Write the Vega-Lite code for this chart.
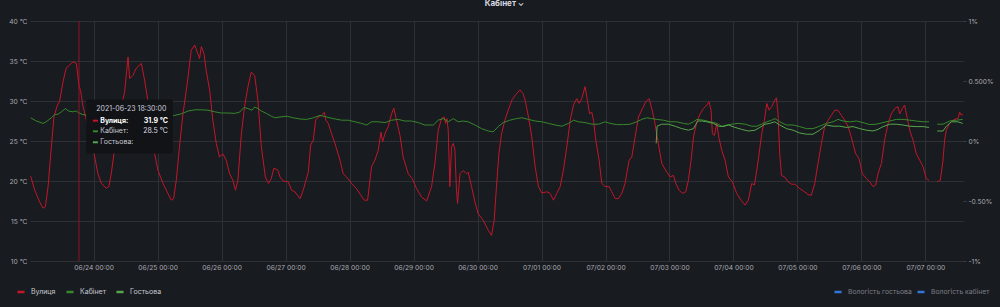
{
"$schema": "https://vega.github.io/schema/vega-lite/v6.json",
"width": 933, "height": 240,
"autosize": {"type": "none"},
"padding": {"left": 30, "top": 21, "right": 37, "bottom": 46},
"background": "#181b1f",
"config": {
  "view": {"stroke": null},
  "font": "Inter",
  "axis": {"labelFont": "Inter", "labelColor": "#a9aab3", "labelFontSize": 6.7, "domain": false, "ticks": false, "gridColor": "#2d3035", "gridWidth": 1},
  "legend": {"labelFont": "Inter"}
},
"title": {"text": "Кабінет ⌄", "anchor": "middle", "frame": "group", "fontSize": 8, "fontWeight": "bold", "color": "#d8d9e0", "offset": 4, "dx": 8, "baseline": "alphabetic"},
"datasets": {
"temps": [
{"t":"2021-06-23T00:22","s":"Вулиця","v":20.6},
{"t":"2021-06-23T01:54","s":"Вулиця","v":18.85},
{"t":"2021-06-23T03:42","s":"Вулиця","v":17.4},
{"t":"2021-06-23T05:00","s":"Вулиця","v":16.6},
{"t":"2021-06-23T05:54","s":"Вулиця","v":16.8},
{"t":"2021-06-23T06:54","s":"Вулиця","v":19.3},
{"t":"2021-06-23T07:54","s":"Вулиця","v":23.4},
{"t":"2021-06-23T09:06","s":"Вулиця","v":28.0},
{"t":"2021-06-23T10:24","s":"Вулиця","v":29.5},
{"t":"2021-06-23T11:12","s":"Вулиця","v":29.9},
{"t":"2021-06-23T12:30","s":"Вулиця","v":32.4},
{"t":"2021-06-23T13:42","s":"Вулиця","v":34.1},
{"t":"2021-06-23T15:00","s":"Вулиця","v":34.5},
{"t":"2021-06-23T16:12","s":"Вулиця","v":34.9},
{"t":"2021-06-23T17:30","s":"Вулиця","v":34.7},
{"t":"2021-06-23T18:30","s":"Вулиця","v":31.9},
{"t":"2021-06-23T19:06","s":"Вулиця","v":31.3},
{"t":"2021-06-23T20:00","s":"Вулиця","v":29.3},
{"t":"2021-06-23T21:00","s":"Вулиця","v":28.0},
{"t":"2021-06-23T22:00","s":"Вулиця","v":26.5},
{"t":"2021-06-23T23:00","s":"Вулиця","v":25.0},
{"t":"2021-06-24T00:24","s":"Вулиця","v":23.0},
{"t":"2021-06-24T01:36","s":"Вулиця","v":20.9},
{"t":"2021-06-24T02:54","s":"Вулиця","v":19.7},
{"t":"2021-06-24T04:42","s":"Вулиця","v":19.1},
{"t":"2021-06-24T05:42","s":"Вулиця","v":19.3},
{"t":"2021-06-24T06:36","s":"Вулиця","v":20.9},
{"t":"2021-06-24T07:36","s":"Вулиця","v":23.4},
{"t":"2021-06-24T09:00","s":"Вулиця","v":26.5},
{"t":"2021-06-24T10:00","s":"Вулиця","v":28.5},
{"t":"2021-06-24T11:00","s":"Вулиця","v":30.2},
{"t":"2021-06-24T11:36","s":"Вулиця","v":31.1},
{"t":"2021-06-24T12:54","s":"Вулиця","v":35.5},
{"t":"2021-06-24T13:30","s":"Вулиця","v":32.8},
{"t":"2021-06-24T14:42","s":"Вулиця","v":33.2},
{"t":"2021-06-24T16:00","s":"Вулиця","v":34.1},
{"t":"2021-06-24T17:54","s":"Вулиця","v":34.7},
{"t":"2021-06-24T19:06","s":"Вулиця","v":32.6},
{"t":"2021-06-24T20:24","s":"Вулиця","v":29.9},
{"t":"2021-06-24T21:30","s":"Вулиця","v":27.0},
{"t":"2021-06-24T22:54","s":"Вулиця","v":23.4},
{"t":"2021-06-25T00:06","s":"Вулиця","v":21.35},
{"t":"2021-06-25T02:00","s":"Вулиця","v":19.7},
{"t":"2021-06-25T03:54","s":"Вулиця","v":18.4},
{"t":"2021-06-25T05:06","s":"Вулиця","v":17.6},
{"t":"2021-06-25T06:00","s":"Вулиця","v":17.8},
{"t":"2021-06-25T07:00","s":"Вулиця","v":20.1},
{"t":"2021-06-25T08:12","s":"Вулиця","v":24.3},
{"t":"2021-06-25T09:30","s":"Вулиця","v":28.4},
{"t":"2021-06-25T11:06","s":"Вулиця","v":32.2},
{"t":"2021-06-25T12:36","s":"Вулиця","v":36.35},
{"t":"2021-06-25T13:54","s":"Вулиця","v":37.0},
{"t":"2021-06-25T15:06","s":"Вулиця","v":35.9},
{"t":"2021-06-25T15:42","s":"Вулиця","v":35.3},
{"t":"2021-06-25T16:24","s":"Вулиця","v":36.8},
{"t":"2021-06-25T17:24","s":"Вулиця","v":35.9},
{"t":"2021-06-25T18:12","s":"Вулиця","v":33.85},
{"t":"2021-06-25T19:30","s":"Вулиця","v":31.35},
{"t":"2021-06-25T20:42","s":"Вулиця","v":27.6},
{"t":"2021-06-25T22:00","s":"Вулиця","v":24.7},
{"t":"2021-06-25T23:12","s":"Вулиця","v":23.0},
{"t":"2021-06-26T00:30","s":"Вулиця","v":23.4},
{"t":"2021-06-26T01:42","s":"Вулиця","v":22.6},
{"t":"2021-06-26T03:00","s":"Вулиця","v":20.9},
{"t":"2021-06-26T04:12","s":"Вулиця","v":20.1},
{"t":"2021-06-26T05:12","s":"Вулиця","v":18.85},
{"t":"2021-06-26T06:06","s":"Вулиця","v":20.1},
{"t":"2021-06-26T07:24","s":"Вулиця","v":25.9},
{"t":"2021-06-26T08:36","s":"Вулиця","v":29.3},
{"t":"2021-06-26T09:54","s":"Вулиця","v":31.8},
{"t":"2021-06-26T11:06","s":"Вулиця","v":33.6},
{"t":"2021-06-26T12:24","s":"Вулиця","v":33.2},
{"t":"2021-06-26T13:36","s":"Вулиця","v":30.1},
{"t":"2021-06-26T14:54","s":"Вулиця","v":24.3},
{"t":"2021-06-26T16:24","s":"Вулиця","v":20.5},
{"t":"2021-06-26T17:36","s":"Вулиця","v":19.7},
{"t":"2021-06-26T18:36","s":"Вулиця","v":20.3},
{"t":"2021-06-26T19:36","s":"Вулиця","v":21.6},
{"t":"2021-06-26T21:06","s":"Вулиця","v":21.35},
{"t":"2021-06-26T21:54","s":"Вулиця","v":20.5},
{"t":"2021-06-26T23:06","s":"Вулиця","v":20.0},
{"t":"2021-06-27T01:00","s":"Вулиця","v":19.9},
{"t":"2021-06-27T02:15","s":"Вулиця","v":18.85},
{"t":"2021-06-27T03:30","s":"Вулиця","v":18.65},
{"t":"2021-06-27T05:24","s":"Вулиця","v":17.8},
{"t":"2021-06-27T06:36","s":"Вулиця","v":18.85},
{"t":"2021-06-27T08:30","s":"Вулиця","v":21.1},
{"t":"2021-06-27T09:24","s":"Вулиця","v":24.5},
{"t":"2021-06-27T10:24","s":"Вулиця","v":25.1},
{"t":"2021-06-27T11:15","s":"Вулиця","v":27.6},
{"t":"2021-06-27T12:15","s":"Вулиця","v":28.0},
{"t":"2021-06-27T13:30","s":"Вулиця","v":28.2},
{"t":"2021-06-27T14:30","s":"Вулиця","v":28.6},
{"t":"2021-06-27T15:06","s":"Вулиця","v":27.6},
{"t":"2021-06-27T16:00","s":"Вулиця","v":27.2},
{"t":"2021-06-27T17:15","s":"Вулиця","v":25.9},
{"t":"2021-06-27T18:30","s":"Вулиця","v":24.7},
{"t":"2021-06-27T20:24","s":"Вулиця","v":22.6},
{"t":"2021-06-27T21:36","s":"Вулиця","v":20.9},
{"t":"2021-06-27T22:54","s":"Вулиця","v":20.5},
{"t":"2021-06-28T00:45","s":"Вулиця","v":19.7},
{"t":"2021-06-28T02:36","s":"Вулиця","v":19.05},
{"t":"2021-06-28T04:15","s":"Вулиця","v":18.2},
{"t":"2021-06-28T05:30","s":"Вулиця","v":17.6},
{"t":"2021-06-28T06:45","s":"Вулиця","v":17.6},
{"t":"2021-06-28T08:15","s":"Вулиця","v":21.8},
{"t":"2021-06-28T09:30","s":"Вулиця","v":22.6},
{"t":"2021-06-28T10:45","s":"Вулиця","v":23.85},
{"t":"2021-06-28T11:45","s":"Вулиця","v":26.1},
{"t":"2021-06-28T12:24","s":"Вулиця","v":24.9},
{"t":"2021-06-28T13:15","s":"Вулиця","v":25.9},
{"t":"2021-06-28T14:30","s":"Вулиця","v":26.8},
{"t":"2021-06-28T15:45","s":"Вулиця","v":28.4},
{"t":"2021-06-28T16:36","s":"Вулиця","v":29.1},
{"t":"2021-06-28T17:36","s":"Вулиця","v":27.6},
{"t":"2021-06-28T18:54","s":"Вулиця","v":25.7},
{"t":"2021-06-28T20:06","s":"Вулиця","v":23.0},
{"t":"2021-06-28T22:00","s":"Вулиця","v":20.9},
{"t":"2021-06-28T23:30","s":"Вулиця","v":20.3},
{"t":"2021-06-29T01:06","s":"Вулиця","v":19.05},
{"t":"2021-06-29T03:00","s":"Вулиця","v":18.0},
{"t":"2021-06-29T04:54","s":"Вулиця","v":17.5},
{"t":"2021-06-29T06:45","s":"Вулиця","v":19.3},
{"t":"2021-06-29T08:00","s":"Вулиця","v":22.2},
{"t":"2021-06-29T09:15","s":"Вулиця","v":26.35},
{"t":"2021-06-29T10:30","s":"Вулиця","v":27.8},
{"t":"2021-06-29T11:30","s":"Вулиця","v":28.0},
{"t":"2021-06-29T12:00","s":"Вулиця","v":27.2},
{"t":"2021-06-29T12:30","s":"Вулиця","v":27.8},
{"t":"2021-06-29T13:00","s":"Вулиця","v":26.35},
{"t":"2021-06-29T13:36","s":"Вулиця","v":19.3},
{"t":"2021-06-29T14:15","s":"Вулиця","v":24.3},
{"t":"2021-06-29T14:54","s":"Вулиця","v":24.7},
{"t":"2021-06-29T15:30","s":"Вулиця","v":23.85},
{"t":"2021-06-29T16:06","s":"Вулиця","v":18.85},
{"t":"2021-06-29T16:30","s":"Вулиця","v":17.2},
{"t":"2021-06-29T17:24","s":"Вулиця","v":20.9},
{"t":"2021-06-29T18:36","s":"Вулиця","v":21.3},
{"t":"2021-06-29T19:54","s":"Вулиця","v":20.9},
{"t":"2021-06-29T20:30","s":"Вулиця","v":21.1},
{"t":"2021-06-29T21:45","s":"Вулиця","v":19.3},
{"t":"2021-06-29T23:00","s":"Вулиця","v":17.4},
{"t":"2021-06-30T00:15","s":"Вулиця","v":15.9},
{"t":"2021-06-30T02:06","s":"Вулиця","v":15.1},
{"t":"2021-06-30T04:00","s":"Вулиця","v":13.85},
{"t":"2021-06-30T05:15","s":"Вулиця","v":13.2},
{"t":"2021-06-30T06:15","s":"Вулиця","v":15.1},
{"t":"2021-06-30T07:06","s":"Вулиця","v":19.3},
{"t":"2021-06-30T08:00","s":"Вулиця","v":23.4},
{"t":"2021-06-30T09:00","s":"Вулиця","v":25.9},
{"t":"2021-06-30T10:15","s":"Вулиця","v":27.6},
{"t":"2021-06-30T11:30","s":"Вулиця","v":28.85},
{"t":"2021-06-30T13:00","s":"Вулиця","v":30.2},
{"t":"2021-06-30T14:36","s":"Вулиця","v":30.9},
{"t":"2021-06-30T15:54","s":"Вулиця","v":31.4},
{"t":"2021-06-30T17:06","s":"Вулиця","v":30.9},
{"t":"2021-06-30T17:51","s":"Вулиця","v":30.1},
{"t":"2021-06-30T19:06","s":"Вулиця","v":28.0},
{"t":"2021-06-30T20:21","s":"Вулиця","v":25.5},
{"t":"2021-06-30T21:36","s":"Вулиця","v":21.8},
{"t":"2021-06-30T22:51","s":"Вулиця","v":19.3},
{"t":"2021-07-01T00:06","s":"Вулиця","v":18.5},
{"t":"2021-07-01T02:00","s":"Вулиця","v":18.65},
{"t":"2021-07-01T03:12","s":"Вулиця","v":18.45},
{"t":"2021-07-01T04:30","s":"Вулиця","v":17.6},
{"t":"2021-07-01T05:42","s":"Вулиця","v":18.45},
{"t":"2021-07-01T07:00","s":"Вулиця","v":19.3},
{"t":"2021-07-01T08:12","s":"Вулиця","v":21.35},
{"t":"2021-07-01T09:30","s":"Вулиця","v":24.3},
{"t":"2021-07-01T10:45","s":"Вулиця","v":27.6},
{"t":"2021-07-01T12:00","s":"Вулиця","v":29.5},
{"t":"2021-07-01T13:12","s":"Вулиця","v":30.3},
{"t":"2021-07-01T14:06","s":"Вулиця","v":29.7},
{"t":"2021-07-01T15:06","s":"Вулиця","v":30.3},
{"t":"2021-07-01T16:21","s":"Вулиця","v":31.8},
{"t":"2021-07-01T17:12","s":"Вулиця","v":30.1},
{"t":"2021-07-01T18:00","s":"Вулиця","v":28.4},
{"t":"2021-07-01T18:51","s":"Вулиця","v":28.6},
{"t":"2021-07-01T19:30","s":"Вулиця","v":27.6},
{"t":"2021-07-01T20:21","s":"Вулиця","v":25.1},
{"t":"2021-07-01T21:36","s":"Вулиця","v":22.6},
{"t":"2021-07-01T22:36","s":"Вулиця","v":19.7},
{"t":"2021-07-01T23:51","s":"Вулиця","v":19.3},
{"t":"2021-07-02T01:21","s":"Вулиця","v":19.3},
{"t":"2021-07-02T02:21","s":"Вулиця","v":18.65},
{"t":"2021-07-02T03:36","s":"Вулиця","v":17.8},
{"t":"2021-07-02T04:51","s":"Вулиця","v":17.8},
{"t":"2021-07-02T06:06","s":"Вулиця","v":18.45},
{"t":"2021-07-02T07:21","s":"Вулиця","v":19.7},
{"t":"2021-07-02T08:51","s":"Вулиця","v":22.6},
{"t":"2021-07-02T09:51","s":"Вулиця","v":23.0},
{"t":"2021-07-02T11:06","s":"Вулиця","v":25.5},
{"t":"2021-07-02T12:21","s":"Вулиця","v":28.0},
{"t":"2021-07-02T13:51","s":"Вулиця","v":29.05},
{"t":"2021-07-02T15:06","s":"Вулиця","v":29.9},
{"t":"2021-07-02T16:21","s":"Вулиця","v":30.3},
{"t":"2021-07-02T17:21","s":"Вулиця","v":29.05},
{"t":"2021-07-02T18:21","s":"Вулиця","v":27.6},
{"t":"2021-07-02T19:36","s":"Вулиця","v":25.1},
{"t":"2021-07-02T21:06","s":"Вулиця","v":22.2},
{"t":"2021-07-02T23:00","s":"Вулиця","v":21.1},
{"t":"2021-07-03T00:15","s":"Вулиця","v":20.5},
{"t":"2021-07-03T01:30","s":"Вулиця","v":20.7},
{"t":"2021-07-03T02:21","s":"Вулиця","v":19.7},
{"t":"2021-07-03T03:36","s":"Вулиця","v":18.85},
{"t":"2021-07-03T04:51","s":"Вулиця","v":18.45},
{"t":"2021-07-03T06:06","s":"Вулиця","v":18.65},
{"t":"2021-07-03T07:06","s":"Вулиця","v":20.1},
{"t":"2021-07-03T08:06","s":"Вулиця","v":22.6},
{"t":"2021-07-03T09:00","s":"Вулиця","v":25.5},
{"t":"2021-07-03T10:15","s":"Вулиця","v":27.4},
{"t":"2021-07-03T11:30","s":"Вулиця","v":28.4},
{"t":"2021-07-03T12:45","s":"Вулиця","v":29.05},
{"t":"2021-07-03T14:00","s":"Вулиця","v":29.5},
{"t":"2021-07-03T14:51","s":"Вулиця","v":29.9},
{"t":"2021-07-03T15:36","s":"Вулиця","v":28.85},
{"t":"2021-07-03T16:06","s":"Вулиця","v":25.9},
{"t":"2021-07-03T16:51","s":"Вулиця","v":25.7},
{"t":"2021-07-03T17:42","s":"Вулиця","v":27.2},
{"t":"2021-07-03T18:36","s":"Вулиця","v":25.3},
{"t":"2021-07-03T19:36","s":"Вулиця","v":23.85},
{"t":"2021-07-03T20:51","s":"Вулиця","v":22.6},
{"t":"2021-07-03T22:06","s":"Вулиця","v":20.5},
{"t":"2021-07-03T23:36","s":"Вулиця","v":19.9},
{"t":"2021-07-04T01:12","s":"Вулиця","v":18.45},
{"t":"2021-07-04T02:51","s":"Вулиця","v":17.6},
{"t":"2021-07-04T04:21","s":"Вулиця","v":17.0},
{"t":"2021-07-04T05:36","s":"Вулиця","v":17.6},
{"t":"2021-07-04T06:51","s":"Вулиця","v":19.7},
{"t":"2021-07-04T07:51","s":"Вулиця","v":19.5},
{"t":"2021-07-04T08:45","s":"Вулиця","v":21.35},
{"t":"2021-07-04T09:36","s":"Вулиця","v":23.4},
{"t":"2021-07-04T10:36","s":"Вулиця","v":25.9},
{"t":"2021-07-04T11:36","s":"Вулиця","v":27.6},
{"t":"2021-07-04T12:30","s":"Вулиця","v":29.7},
{"t":"2021-07-04T13:21","s":"Вулиця","v":28.85},
{"t":"2021-07-04T14:21","s":"Вулиця","v":29.3},
{"t":"2021-07-04T15:30","s":"Вулиця","v":30.1},
{"t":"2021-07-04T16:06","s":"Вулиця","v":30.4},
{"t":"2021-07-04T16:42","s":"Вулиця","v":28.4},
{"t":"2021-07-04T17:21","s":"Вулиця","v":23.4},
{"t":"2021-07-04T18:00","s":"Вулиця","v":20.7},
{"t":"2021-07-04T19:12","s":"Вулиця","v":20.5},
{"t":"2021-07-04T20:30","s":"Вулиця","v":19.9},
{"t":"2021-07-04T21:42","s":"Вулиця","v":19.6},
{"t":"2021-07-04T23:00","s":"Вулиця","v":19.6},
{"t":"2021-07-05T00:51","s":"Вулиця","v":19.05},
{"t":"2021-07-05T02:42","s":"Вулиця","v":18.65},
{"t":"2021-07-05T04:00","s":"Вулиця","v":18.3},
{"t":"2021-07-05T05:12","s":"Вулиця","v":18.2},
{"t":"2021-07-05T06:30","s":"Вулиця","v":19.7},
{"t":"2021-07-05T07:42","s":"Вулиця","v":22.2},
{"t":"2021-07-05T09:00","s":"Вулиця","v":24.7},
{"t":"2021-07-05T10:12","s":"Вулиця","v":26.8},
{"t":"2021-07-05T11:30","s":"Вулиця","v":27.6},
{"t":"2021-07-05T12:42","s":"Вулиця","v":28.2},
{"t":"2021-07-05T14:00","s":"Вулиця","v":28.85},
{"t":"2021-07-05T15:12","s":"Вулиця","v":28.85},
{"t":"2021-07-05T16:30","s":"Вулиця","v":28.2},
{"t":"2021-07-05T17:42","s":"Вулиця","v":27.6},
{"t":"2021-07-05T19:00","s":"Вулиця","v":26.8},
{"t":"2021-07-05T20:12","s":"Вулиця","v":25.5},
{"t":"2021-07-05T21:51","s":"Вулиця","v":23.4},
{"t":"2021-07-05T23:06","s":"Вулиця","v":22.8},
{"t":"2021-07-06T00:21","s":"Вулиця","v":20.9},
{"t":"2021-07-06T01:51","s":"Вулиця","v":20.3},
{"t":"2021-07-06T03:06","s":"Вулиця","v":19.9},
{"t":"2021-07-06T04:21","s":"Вулиця","v":19.3},
{"t":"2021-07-06T05:21","s":"Вулиця","v":19.5},
{"t":"2021-07-06T06:12","s":"Вулиця","v":20.9},
{"t":"2021-07-06T07:30","s":"Вулиця","v":22.2},
{"t":"2021-07-06T08:42","s":"Вулиця","v":25.1},
{"t":"2021-07-06T10:00","s":"Вулиця","v":27.2},
{"t":"2021-07-06T11:12","s":"Вулиця","v":28.4},
{"t":"2021-07-06T12:30","s":"Вулиця","v":29.05},
{"t":"2021-07-06T13:42","s":"Вулиця","v":29.3},
{"t":"2021-07-06T14:21","s":"Вулиця","v":28.4},
{"t":"2021-07-06T15:21","s":"Вулиця","v":29.05},
{"t":"2021-07-06T16:12","s":"Вулиця","v":29.5},
{"t":"2021-07-06T17:06","s":"Вулиця","v":28.0},
{"t":"2021-07-06T18:06","s":"Вулиця","v":26.35},
{"t":"2021-07-06T19:21","s":"Вулиця","v":25.1},
{"t":"2021-07-06T20:36","s":"Вулиця","v":23.4},
{"t":"2021-07-06T21:51","s":"Вулиця","v":22.6},
{"t":"2021-07-06T23:06","s":"Вулиця","v":21.8},
{"t":"2021-07-07T00:21","s":"Вулиця","v":20.3},
{"t":"2021-07-07T01:21","s":"Вулиця","v":20.1},
{"t":"2021-07-07T02:48","s":"Вулиця","v":null},
{"t":"2021-07-07T04:24","s":"Вулиця","v":19.9},
{"t":"2021-07-07T05:36","s":"Вулиця","v":20.1},
{"t":"2021-07-07T06:36","s":"Вулиця","v":22.6},
{"t":"2021-07-07T07:12","s":"Вулиця","v":25.1},
{"t":"2021-07-07T07:51","s":"Вулиця","v":26.35},
{"t":"2021-07-07T09:06","s":"Вулиця","v":27.2},
{"t":"2021-07-07T10:21","s":"Вулиця","v":27.6},
{"t":"2021-07-07T11:36","s":"Вулиця","v":27.8},
{"t":"2021-07-07T12:12","s":"Вулиця","v":27.8},
{"t":"2021-07-07T12:51","s":"Вулиця","v":28.6},
{"t":"2021-07-07T13:30","s":"Вулиця","v":28.2},
{"t":"2021-07-07T14:00","s":"Вулиця","v":28.4},
{"t":"2021-06-23T00:22","s":"Кабінет","v":27.9},
{"t":"2021-06-23T02:30","s":"Кабінет","v":27.5},
{"t":"2021-06-23T05:00","s":"Кабінет","v":27.2},
{"t":"2021-06-23T06:12","s":"Кабінет","v":27.4},
{"t":"2021-06-23T08:06","s":"Кабінет","v":27.9},
{"t":"2021-06-23T09:24","s":"Кабінет","v":28.3},
{"t":"2021-06-23T10:36","s":"Кабінет","v":28.35},
{"t":"2021-06-23T11:54","s":"Кабінет","v":28.65},
{"t":"2021-06-23T13:24","s":"Кабінет","v":29.05},
{"t":"2021-06-23T14:36","s":"Кабінет","v":28.75},
{"t":"2021-06-23T16:12","s":"Кабінет","v":28.65},
{"t":"2021-06-23T17:30","s":"Кабінет","v":28.75},
{"t":"2021-06-23T18:30","s":"Кабінет","v":28.5},
{"t":"2021-06-23T20:00","s":"Кабінет","v":28.3},
{"t":"2021-06-24T00:00","s":"Кабінет","v":28.1},
{"t":"2021-06-24T06:00","s":"Кабінет","v":27.9},
{"t":"2021-06-24T12:00","s":"Кабінет","v":28.2},
{"t":"2021-06-24T18:00","s":"Кабінет","v":28.5},
{"t":"2021-06-25T00:00","s":"Кабінет","v":28.3},
{"t":"2021-06-25T04:00","s":"Кабінет","v":28.1},
{"t":"2021-06-25T06:24","s":"Кабінет","v":28.2},
{"t":"2021-06-25T08:54","s":"Кабінет","v":28.4},
{"t":"2021-06-25T11:24","s":"Кабінет","v":28.75},
{"t":"2021-06-25T13:54","s":"Кабінет","v":28.9},
{"t":"2021-06-25T16:24","s":"Кабінет","v":28.9},
{"t":"2021-06-25T18:54","s":"Кабінет","v":28.85},
{"t":"2021-06-25T21:24","s":"Кабінет","v":28.65},
{"t":"2021-06-25T23:54","s":"Кабінет","v":28.5},
{"t":"2021-06-26T02:24","s":"Кабінет","v":28.5},
{"t":"2021-06-26T04:54","s":"Кабінет","v":28.45},
{"t":"2021-06-26T06:42","s":"Кабінет","v":28.6},
{"t":"2021-06-26T08:24","s":"Кабінет","v":29.2},
{"t":"2021-06-26T09:54","s":"Кабінет","v":29.05},
{"t":"2021-06-26T11:24","s":"Кабінет","v":28.85},
{"t":"2021-06-26T12:24","s":"Кабінет","v":29.25},
{"t":"2021-06-26T13:36","s":"Кабінет","v":29.05},
{"t":"2021-06-26T14:54","s":"Кабінет","v":28.75},
{"t":"2021-06-26T16:45","s":"Кабінет","v":28.45},
{"t":"2021-06-26T18:36","s":"Кабінет","v":28.1},
{"t":"2021-06-26T20:00","s":"Кабінет","v":27.9},
{"t":"2021-06-26T21:54","s":"Кабінет","v":28.0},
{"t":"2021-06-27T00:24","s":"Кабінет","v":28.1},
{"t":"2021-06-27T02:54","s":"Кабінет","v":27.9},
{"t":"2021-06-27T05:24","s":"Кабінет","v":27.75},
{"t":"2021-06-27T07:54","s":"Кабінет","v":27.7},
{"t":"2021-06-27T10:24","s":"Кабінет","v":27.9},
{"t":"2021-06-27T12:54","s":"Кабінет","v":28.2},
{"t":"2021-06-27T15:24","s":"Кабінет","v":28.0},
{"t":"2021-06-27T17:54","s":"Кабінет","v":27.8},
{"t":"2021-06-27T21:00","s":"Кабінет","v":27.6},
{"t":"2021-06-27T23:30","s":"Кабінет","v":27.6},
{"t":"2021-06-28T02:00","s":"Кабінет","v":27.4},
{"t":"2021-06-28T04:30","s":"Кабінет","v":27.2},
{"t":"2021-06-28T06:24","s":"Кабінет","v":27.0},
{"t":"2021-06-28T08:15","s":"Кабінет","v":27.4},
{"t":"2021-06-28T10:45","s":"Кабінет","v":27.4},
{"t":"2021-06-28T13:15","s":"Кабінет","v":27.3},
{"t":"2021-06-28T15:45","s":"Кабінет","v":27.6},
{"t":"2021-06-28T18:15","s":"Кабінет","v":27.7},
{"t":"2021-06-28T20:45","s":"Кабінет","v":27.5},
{"t":"2021-06-28T23:15","s":"Кабінет","v":27.5},
{"t":"2021-06-29T01:45","s":"Кабінет","v":27.3},
{"t":"2021-06-29T04:15","s":"Кабінет","v":27.0},
{"t":"2021-06-29T07:24","s":"Кабінет","v":27.0},
{"t":"2021-06-29T09:15","s":"Кабінет","v":27.6},
{"t":"2021-06-29T11:06","s":"Кабінет","v":27.8},
{"t":"2021-06-29T13:00","s":"Кабінет","v":27.4},
{"t":"2021-06-29T14:54","s":"Кабінет","v":27.8},
{"t":"2021-06-29T16:45","s":"Кабінет","v":27.4},
{"t":"2021-06-29T18:36","s":"Кабінет","v":27.5},
{"t":"2021-06-29T20:30","s":"Кабінет","v":27.4},
{"t":"2021-06-29T23:00","s":"Кабінет","v":27.0},
{"t":"2021-06-30T01:30","s":"Кабінет","v":26.55},
{"t":"2021-06-30T04:00","s":"Кабінет","v":26.25},
{"t":"2021-06-30T05:54","s":"Кабінет","v":26.15},
{"t":"2021-06-30T07:45","s":"Кабінет","v":26.8},
{"t":"2021-06-30T09:36","s":"Кабінет","v":27.3},
{"t":"2021-06-30T12:06","s":"Кабінет","v":27.6},
{"t":"2021-06-30T14:36","s":"Кабінет","v":27.8},
{"t":"2021-06-30T16:36","s":"Кабінет","v":27.9},
{"t":"2021-06-30T19:06","s":"Кабінет","v":27.7},
{"t":"2021-06-30T21:36","s":"Кабінет","v":27.5},
{"t":"2021-07-01T00:06","s":"Кабінет","v":27.4},
{"t":"2021-07-01T02:36","s":"Кабінет","v":27.2},
{"t":"2021-07-01T05:06","s":"Кабінет","v":27.0},
{"t":"2021-07-01T07:36","s":"Кабінет","v":26.85},
{"t":"2021-07-01T10:06","s":"Кабінет","v":27.2},
{"t":"2021-07-01T12:00","s":"Кабінет","v":27.6},
{"t":"2021-07-01T13:51","s":"Кабінет","v":27.4},
{"t":"2021-07-01T16:21","s":"Кабінет","v":27.3},
{"t":"2021-07-01T18:51","s":"Кабінет","v":27.1},
{"t":"2021-07-01T21:21","s":"Кабінет","v":27.1},
{"t":"2021-07-01T23:51","s":"Кабінет","v":27.4},
{"t":"2021-07-02T01:42","s":"Кабінет","v":27.2},
{"t":"2021-07-02T04:12","s":"Кабінет","v":27.05},
{"t":"2021-07-02T06:42","s":"Кабінет","v":27.05},
{"t":"2021-07-02T09:12","s":"Кабінет","v":27.1},
{"t":"2021-07-02T11:42","s":"Кабінет","v":27.4},
{"t":"2021-07-02T13:36","s":"Кабінет","v":27.7},
{"t":"2021-07-02T15:30","s":"Кабінет","v":27.9},
{"t":"2021-07-02T17:21","s":"Кабінет","v":27.8},
{"t":"2021-07-02T19:12","s":"Кабінет","v":27.7},
{"t":"2021-07-02T21:42","s":"Кабінет","v":27.6},
{"t":"2021-07-03T00:12","s":"Кабінет","v":27.4},
{"t":"2021-07-03T02:42","s":"Кабінет","v":27.4},
{"t":"2021-07-03T05:12","s":"Кабінет","v":27.2},
{"t":"2021-07-03T07:06","s":"Кабінет","v":27.1},
{"t":"2021-07-03T09:00","s":"Кабінет","v":27.4},
{"t":"2021-07-03T10:15","s":"Кабінет","v":27.7},
{"t":"2021-07-03T12:45","s":"Кабінет","v":27.6},
{"t":"2021-07-03T15:12","s":"Кабінет","v":27.4},
{"t":"2021-07-03T17:42","s":"Кабінет","v":27.2},
{"t":"2021-07-03T19:36","s":"Кабінет","v":26.85},
{"t":"2021-07-03T21:30","s":"Кабінет","v":27.0},
{"t":"2021-07-03T23:21","s":"Кабінет","v":27.1},
{"t":"2021-07-04T01:51","s":"Кабінет","v":27.2},
{"t":"2021-07-04T04:21","s":"Кабінет","v":27.1},
{"t":"2021-07-04T06:51","s":"Кабінет","v":26.85},
{"t":"2021-07-04T08:45","s":"Кабінет","v":26.85},
{"t":"2021-07-04T10:36","s":"Кабінет","v":27.1},
{"t":"2021-07-04T12:30","s":"Кабінет","v":27.4},
{"t":"2021-07-04T14:21","s":"Кабінет","v":27.6},
{"t":"2021-07-04T15:30","s":"Кабінет","v":27.8},
{"t":"2021-07-04T17:21","s":"Кабінет","v":27.4},
{"t":"2021-07-04T19:51","s":"Кабінет","v":27.0},
{"t":"2021-07-04T22:21","s":"Кабінет","v":27.0},
{"t":"2021-07-05T00:51","s":"Кабінет","v":26.8},
{"t":"2021-07-05T03:21","s":"Кабінет","v":26.55},
{"t":"2021-07-05T05:51","s":"Кабінет","v":26.55},
{"t":"2021-07-05T08:21","s":"Кабінет","v":26.85},
{"t":"2021-07-05T10:51","s":"Кабінет","v":27.2},
{"t":"2021-07-05T13:21","s":"Кабінет","v":27.4},
{"t":"2021-07-05T15:12","s":"Кабінет","v":27.7},
{"t":"2021-07-05T17:06","s":"Кабінет","v":27.5},
{"t":"2021-07-05T19:36","s":"Кабінет","v":27.4},
{"t":"2021-07-05T22:06","s":"Кабінет","v":27.5},
{"t":"2021-07-06T00:36","s":"Кабінет","v":27.3},
{"t":"2021-07-06T03:06","s":"Кабінет","v":27.05},
{"t":"2021-07-06T05:36","s":"Кабінет","v":27.1},
{"t":"2021-07-06T08:06","s":"Кабінет","v":27.3},
{"t":"2021-07-06T10:36","s":"Кабінет","v":27.5},
{"t":"2021-07-06T13:06","s":"Кабінет","v":27.7},
{"t":"2021-07-06T15:36","s":"Кабінет","v":27.7},
{"t":"2021-07-06T18:06","s":"Кабінет","v":27.6},
{"t":"2021-07-06T20:36","s":"Кабінет","v":27.5},
{"t":"2021-07-06T23:06","s":"Кабінет","v":27.4},
{"t":"2021-07-07T01:21","s":"Кабінет","v":27.4},
{"t":"2021-07-07T02:48","s":"Кабінет","v":null},
{"t":"2021-07-07T04:24","s":"Кабінет","v":27.1},
{"t":"2021-07-07T06:36","s":"Кабінет","v":27.1},
{"t":"2021-07-07T09:06","s":"Кабінет","v":27.5},
{"t":"2021-07-07T11:36","s":"Кабінет","v":27.6},
{"t":"2021-07-07T14:00","s":"Кабінет","v":27.7},
{"t":"2021-07-02T19:00","s":"Гостьова","v":24.7},
{"t":"2021-07-02T19:21","s":"Гостьова","v":26.85},
{"t":"2021-07-02T21:06","s":"Гостьова","v":27.1},
{"t":"2021-07-02T23:36","s":"Гостьова","v":27.1},
{"t":"2021-07-03T02:06","s":"Гостьова","v":26.85},
{"t":"2021-07-03T04:36","s":"Гостьова","v":26.55},
{"t":"2021-07-03T07:06","s":"Гостьова","v":26.35},
{"t":"2021-07-03T09:00","s":"Гостьова","v":26.55},
{"t":"2021-07-03T10:36","s":"Гостьова","v":27.5},
{"t":"2021-07-03T12:06","s":"Гостьова","v":27.5},
{"t":"2021-07-03T14:00","s":"Гостьова","v":27.4},
{"t":"2021-07-03T16:30","s":"Гостьова","v":27.2},
{"t":"2021-07-03T18:21","s":"Гостьова","v":26.85},
{"t":"2021-07-03T20:12","s":"Гостьова","v":26.8},
{"t":"2021-07-03T22:06","s":"Гостьова","v":27.0},
{"t":"2021-07-04T00:36","s":"Гостьова","v":26.7},
{"t":"2021-07-04T03:06","s":"Гостьова","v":26.45},
{"t":"2021-07-04T05:36","s":"Гостьова","v":26.25},
{"t":"2021-07-04T08:06","s":"Гостьова","v":26.35},
{"t":"2021-07-04T09:54","s":"Гостьова","v":26.7},
{"t":"2021-07-04T11:51","s":"Гостьова","v":27.1},
{"t":"2021-07-04T13:36","s":"Гостьова","v":27.2},
{"t":"2021-07-04T15:30","s":"Гостьова","v":27.4},
{"t":"2021-07-04T17:21","s":"Гостьова","v":27.0},
{"t":"2021-07-04T19:51","s":"Гостьова","v":26.55},
{"t":"2021-07-04T22:21","s":"Гостьова","v":26.35},
{"t":"2021-07-05T00:51","s":"Гостьова","v":26.0},
{"t":"2021-07-05T03:21","s":"Гостьова","v":25.85},
{"t":"2021-07-05T05:51","s":"Гостьова","v":25.85},
{"t":"2021-07-05T08:21","s":"Гостьова","v":26.35},
{"t":"2021-07-05T10:51","s":"Гостьова","v":27.0},
{"t":"2021-07-05T13:21","s":"Гостьова","v":26.85},
{"t":"2021-07-05T15:51","s":"Гостьова","v":26.85},
{"t":"2021-07-05T18:21","s":"Гостьова","v":26.7},
{"t":"2021-07-05T20:51","s":"Гостьова","v":26.8},
{"t":"2021-07-05T23:21","s":"Гостьова","v":26.55},
{"t":"2021-07-06T01:51","s":"Гостьова","v":26.35},
{"t":"2021-07-06T04:21","s":"Гостьова","v":26.25},
{"t":"2021-07-06T06:12","s":"Гостьова","v":26.45},
{"t":"2021-07-06T08:06","s":"Гостьова","v":26.8},
{"t":"2021-07-06T10:36","s":"Гостьова","v":27.1},
{"t":"2021-07-06T13:06","s":"Гостьова","v":27.1},
{"t":"2021-07-06T15:36","s":"Гостьова","v":27.0},
{"t":"2021-07-06T18:06","s":"Гостьова","v":26.85},
{"t":"2021-07-06T20:36","s":"Гостьова","v":26.8},
{"t":"2021-07-06T23:06","s":"Гостьова","v":26.8},
{"t":"2021-07-07T01:21","s":"Гостьова","v":26.7},
{"t":"2021-07-07T02:48","s":"Гостьова","v":null},
{"t":"2021-07-07T04:24","s":"Гостьова","v":26.25},
{"t":"2021-07-07T06:36","s":"Гостьова","v":26.25},
{"t":"2021-07-07T07:51","s":"Гостьова","v":26.85},
{"t":"2021-07-07T09:42","s":"Гостьова","v":27.4},
{"t":"2021-07-07T12:12","s":"Гостьова","v":27.4},
{"t":"2021-07-07T14:00","s":"Гостьова","v":27.2}
],
"humidity": [
{"t":"2021-06-30T00:00","s":"Вологість гостьова","h":null},
{"t":"2021-06-30T00:00","s":"Вологість кабінет","h":null}
]
},
"layer": [
{
  "data": {"name": "temps"},
  "mark": {"type": "line", "strokeWidth": 1, "invalid": "break-paths-filter-domains"},
  "encoding": {
    "x": {"field": "t", "type": "temporal", "title": null,
      "scale": {"domain": [{"year":2021,"month":6,"date":23,"hours":0,"minutes":7},{"year":2021,"month":7,"date":7,"hours":14,"minutes":6}]},
      "axis": {"format": "%m/%d %H:%M", "tickCount": {"interval": "day", "step": 1}, "grid": true, "labelPadding": 3, "labelFlush": false, "labelOverlap": false}},
    "y": {"field": "v", "type": "quantitative", "title": null,
      "scale": {"domain": [10, 40], "nice": false, "zero": false},
      "axis": {"values": [10, 15, 20, 25, 30, 35, 40], "labelExpr": "datum.value + ' °C'", "grid": true, "labelPadding": 3}},
    "color": {"field": "s", "type": "nominal",
      "scale": {"domain": ["Вулиця", "Кабінет", "Гостьова"], "range": ["#C4162A", "#37872D", "#56A64B"]},
      "legend": {"orient": "none", "legendX": -14, "legendY": 266, "direction": "horizontal", "title": null, "symbolType": "stroke", "symbolStrokeWidth": 2.5, "symbolSize": 50, "labelFontSize": 7, "labelColor": "#c7c8d0", "labelOffset": 5, "columnPadding": 5, "padding": 0}}
  }
},
{
  "data": {"name": "humidity"},
  "mark": {"type": "line", "strokeWidth": 1, "invalid": "break-paths-filter-domains"},
  "encoding": {
    "x": {"field": "t", "type": "temporal", "title": null},
    "y": {"field": "h", "type": "quantitative", "title": null,
      "scale": {"domain": [-1, 1], "nice": false, "zero": false},
      "axis": {"orient": "right", "values": [-1, -0.5, 0, 0.5, 1], "labelExpr": "datum.value == 1 ? '1%' : datum.value == 0.5 ? '0.500%' : datum.value == 0 ? '0%' : datum.value == -0.5 ? '-0.50%' : '-1%'", "grid": false, "ticks": true, "tickSize": 3, "tickColor": "#3a3d42", "labelPadding": 2}},
    "color": {"field": "s", "type": "nominal",
      "scale": {"domain": ["Вологість гостьова", "Вологість кабінет"], "range": ["#3274D9", "#3274D9"]},
      "legend": {"orient": "none", "legendX": 803, "legendY": 266, "direction": "horizontal", "title": null, "symbolType": "stroke", "symbolStrokeWidth": 2.5, "symbolSize": 50, "labelFontSize": 6.8, "labelColor": "#7b7d87", "labelOffset": 5, "columnPadding": 0, "padding": 0}}
  }
},
{
  "data": {"values": [{"t": "2021-06-23T18:30"}]},
  "mark": {"type": "rule", "color": "#a3142a", "strokeWidth": 1, "opacity": 0.85},
  "encoding": {"x": {"field": "t", "type": "temporal", "title": null}}
},
{
  "data": {"values": [{"t1": "2021-06-23T21:12", "t2": "2021-06-25T05:44", "v1": 30.2, "v2": 23.45}]},
  "mark": {"type": "rect", "fill": "#121317", "cornerRadius": 2},
  "encoding": {
    "x": {"field": "t1", "type": "temporal", "title": null},
    "x2": {"field": "t2"},
    "y": {"field": "v1", "type": "quantitative", "title": null, "scale": {"domain": [10, 40], "nice": false, "zero": false}, "axis": null},
    "y2": {"field": "v2"}
  }
},
{
  "data": {"values": [
    {"t1": "2021-06-23T23:42", "t2": "2021-06-24T01:36", "v": 27.54, "s": "Вулиця"},
    {"t1": "2021-06-23T23:42", "t2": "2021-06-24T01:36", "v": 26.21, "s": "Кабінет"},
    {"t1": "2021-06-23T23:42", "t2": "2021-06-24T01:36", "v": 24.84, "s": "Гостьова"}
  ]},
  "mark": {"type": "rule", "strokeWidth": 2},
  "encoding": {
    "x": {"field": "t1", "type": "temporal", "title": null},
    "x2": {"field": "t2"},
    "y": {"field": "v", "type": "quantitative", "title": null, "scale": {"domain": [10, 40], "nice": false, "zero": false}, "axis": null},
    "color": {"field": "s", "type": "nominal", "scale": {"domain": ["Вулиця", "Кабінет", "Гостьова"], "range": ["#C4162A", "#37872D", "#56A64B"]}, "legend": null}
  }
},
{
  "data": {"values": [{"t": "2021-06-24T00:58", "v": 29.0, "label": "2021-06-23 18:30:00"}]},
  "mark": {"type": "text", "align": "left", "baseline": "middle", "fontSize": 7, "color": "#ccccdc"},
  "encoding": {
    "x": {"field": "t", "type": "temporal", "title": null},
    "y": {"field": "v", "type": "quantitative", "title": null, "scale": {"domain": [10, 40], "nice": false, "zero": false}, "axis": null},
    "text": {"field": "label"}
  }
},
{
  "data": {"values": [{"t": "2021-06-24T02:28", "v": 27.54, "label": "Вулиця:"}]},
  "mark": {"type": "text", "align": "left", "baseline": "middle", "fontSize": 7, "fontWeight": "bold", "color": "#ffffff"},
  "encoding": {
    "x": {"field": "t", "type": "temporal", "title": null},
    "y": {"field": "v", "type": "quantitative", "title": null, "scale": {"domain": [10, 40], "nice": false, "zero": false}, "axis": null},
    "text": {"field": "label"}
  }
},
{
  "data": {"values": [{"t": "2021-06-24T02:28", "v": 26.21, "label": "Кабінет:"}, {"t": "2021-06-24T02:28", "v": 24.84, "label": "Гостьова:"}]},
  "mark": {"type": "text", "align": "left", "baseline": "middle", "fontSize": 7, "color": "#c7c8d0"},
  "encoding": {
    "x": {"field": "t", "type": "temporal", "title": null},
    "y": {"field": "v", "type": "quantitative", "title": null, "scale": {"domain": [10, 40], "nice": false, "zero": false}, "axis": null},
    "text": {"field": "label"}
  }
},
{
  "data": {"values": [{"t": "2021-06-25T03:52", "v": 27.54, "label": "31.9 °C"}]},
  "mark": {"type": "text", "align": "right", "baseline": "middle", "fontSize": 7, "fontWeight": "bold", "color": "#ffffff"},
  "encoding": {
    "x": {"field": "t", "type": "temporal", "title": null},
    "y": {"field": "v", "type": "quantitative", "title": null, "scale": {"domain": [10, 40], "nice": false, "zero": false}, "axis": null},
    "text": {"field": "label"}
  }
},
{
  "data": {"values": [{"t": "2021-06-25T03:52", "v": 26.21, "label": "28.5 °C"}]},
  "mark": {"type": "text", "align": "right", "baseline": "middle", "fontSize": 7, "color": "#dcdde3"},
  "encoding": {
    "x": {"field": "t", "type": "temporal", "title": null},
    "y": {"field": "v", "type": "quantitative", "title": null, "scale": {"domain": [10, 40], "nice": false, "zero": false}, "axis": null},
    "text": {"field": "label"}
  }
}
],
"resolve": {"scale": {"y": "independent", "color": "independent"}}
}
